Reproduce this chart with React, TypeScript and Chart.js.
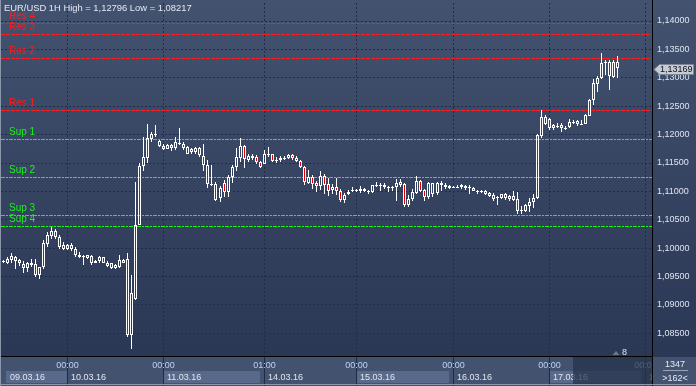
import React, { useEffect, useRef } from "react";
import { Chart, registerables } from "chart.js";

Chart.register(...registerables);

// ---------------- data ----------------
const SLOT_COUNT = 162; // bars shown on screen (">162<")
const slotLabels: string[] = Array.from({ length: SLOT_COUNT }, (_, i) => String(i));

const opens = [
  1.09757, 1.09744, 1.09792, 1.0985, 1.09792, 1.09722, 1.09652, 1.09709, 1.09722, 1.09523,
  1.09664, 1.10075, 1.10216, 1.10309, 1.10203, 1.09981, 1.10062, 1.09991, 1.09991, 1.09885,
  1.09855, 1.09827, 1.09862, 1.09744, 1.09769, 1.09839, 1.09744, 1.09652, 1.09652, 1.09674,
  1.09792, 1.09804, 1.08467, 1.09111, 1.10414, 1.11447, 1.11588, 1.11928, 1.11993, 1.11882,
  1.118, 1.11755, 1.11817, 1.1177, 1.11847, 1.1184, 1.11782, 1.11747, 1.11688, 1.11759,
  1.11629, 1.11465, 1.11113, 1.11125, 1.10878, 1.11148, 1.10984, 1.11254, 1.11429, 1.11593,
  1.11794, 1.11558, 1.11629, 1.11606, 1.11513, 1.11488, 1.11646, 1.11653, 1.11553, 1.11548,
  1.11579, 1.11593, 1.11641, 1.11593, 1.11536, 1.11429, 1.11148, 1.11254, 1.11148, 1.1109,
  1.11266, 1.11125, 1.11016, 1.11072, 1.11013, 1.10849, 1.10954, 1.11016, 1.11022, 1.11002,
  1.11037, 1.11007, 1.1099, 1.11113, 1.11104, 1.11118, 1.1108, 1.1108, 1.11072, 1.11166,
  1.11131, 1.10756, 1.10861, 1.10977, 1.11178, 1.11025, 1.10897, 1.10954, 1.10966, 1.11118,
  1.11072, 1.1106, 1.11082, 1.11082, 1.11072, 1.1106, 1.11069, 1.1106, 1.11009, 1.11009,
  1.11013, 1.10977, 1.10932, 1.10898, 1.10878, 1.10949, 1.10867, 1.10914, 1.10867, 1.10664,
  1.10655, 1.10748, 1.10808, 1.10878, 1.11981, 1.1231, 1.12275, 1.12122, 1.12153, 1.12169,
  1.12119, 1.12135, 1.12224, 1.1224, 1.12188, 1.12192, 1.12333, 1.12604, 1.12897, 1.12992,
  1.1327, 1.13273, 1.13014, 1.13273,
];
const highs = [
  1.09792, 1.0985, 1.09909, 1.09871, 1.09815, 1.09769, 1.09757, 1.09804, 1.09804, 1.09674,
  1.10145, 1.10286, 1.10369, 1.10344, 1.10228, 1.1011, 1.10075, 1.10087, 1.10016, 1.09933,
  1.09885, 1.09885, 1.09875, 1.09792, 1.09862, 1.0985, 1.09779, 1.09744, 1.09722, 1.09885,
  1.09815, 1.09909, 1.09533, 1.11166, 1.11495, 1.11963, 1.12186, 1.12046, 1.12174, 1.11905,
  1.11835, 1.11835, 1.1184, 1.11958, 1.12113, 1.11865, 1.11805, 1.1177, 1.11782, 1.11782,
  1.1183, 1.11558, 1.11465, 1.1116, 1.1109, 1.11196, 1.11289, 1.11465, 1.11759, 1.11935,
  1.11817, 1.11664, 1.11664, 1.11641, 1.11536, 1.11724, 1.11782, 1.11664, 1.11606, 1.11619,
  1.11619, 1.11664, 1.11664, 1.11619, 1.11558, 1.11452, 1.11372, 1.11289, 1.11183, 1.1136,
  1.11312, 1.11241, 1.11136, 1.11236, 1.11037, 1.10977, 1.11025, 1.11072, 1.11048, 1.11095,
  1.1106, 1.11025, 1.11118, 1.11166, 1.11145, 1.11154, 1.11095, 1.11095, 1.11213, 1.11213,
  1.11154, 1.10932, 1.11037, 1.11272, 1.11201, 1.11048, 1.11166, 1.11154, 1.11166, 1.11178,
  1.11154, 1.11118, 1.11095, 1.11108, 1.11131, 1.11118, 1.11108, 1.11084, 1.11025, 1.11025,
  1.11025, 1.1099, 1.10966, 1.10924, 1.1096, 1.10973, 1.10937, 1.11007, 1.10995, 1.10738,
  1.10773, 1.10889, 1.10949, 1.12016, 1.12428, 1.12345, 1.12287, 1.12192, 1.12204, 1.12204,
  1.12157, 1.12275, 1.12262, 1.12262, 1.12262, 1.12368, 1.12627, 1.12979, 1.13038, 1.13437,
  1.13309, 1.13309, 1.13309, 1.13379,
];
const lows = [
  1.0974, 1.09722, 1.09734, 1.09628, 1.09686, 1.09558, 1.09581, 1.09674, 1.09488, 1.09463,
  1.09639, 1.10026, 1.10168, 1.10168, 1.09991, 1.09968, 1.09968, 1.09956, 1.0985, 1.09827,
  1.09709, 1.09804, 1.09709, 1.09734, 1.09744, 1.09734, 1.09664, 1.09628, 1.09628, 1.09652,
  1.09734, 1.08442, 1.08217, 1.09088, 1.10403, 1.11365, 1.11495, 1.1187, 1.11963, 1.11777,
  1.11729, 1.11741, 1.11712, 1.11734, 1.11817, 1.11734, 1.11653, 1.11664, 1.11664, 1.11606,
  1.11353, 1.11054, 1.1109, 1.10831, 1.10808, 1.10902, 1.10902, 1.11148, 1.11353, 1.11523,
  1.11417, 1.11523, 1.11548, 1.11488, 1.11417, 1.11477, 1.11606, 1.11513, 1.11501, 1.11523,
  1.11558, 1.11571, 1.11558, 1.11513, 1.11407, 1.11113, 1.11125, 1.11043, 1.10995, 1.1102,
  1.1095, 1.10924, 1.1096, 1.10942, 1.10814, 1.10791, 1.10942, 1.10995, 1.1099, 1.10977,
  1.1099, 1.10954, 1.10977, 1.11072, 1.11013, 1.11048, 1.1099, 1.11002, 1.10837, 1.11084,
  1.10721, 1.10731, 1.10837, 1.10954, 1.1099, 1.10826, 1.10872, 1.10897, 1.10942, 1.11002,
  1.11048, 1.11048, 1.1106, 1.1106, 1.11037, 1.11025, 1.10954, 1.11002, 1.10954, 1.10966,
  1.10942, 1.10897, 1.10831, 1.10757, 1.10867, 1.10844, 1.10831, 1.10831, 1.10597, 1.10597,
  1.10633, 1.10633, 1.10713, 1.10867, 1.11935, 1.1217, 1.12086, 1.12086, 1.1211, 1.12051,
  1.12076, 1.1211, 1.12192, 1.12157, 1.12181, 1.12181, 1.12322, 1.12522, 1.12756, 1.12979,
  1.13049, 1.1278, 1.12992, 1.12992,
];
const closes = [
  1.09766, 1.09804, 1.09862, 1.09769, 1.09744, 1.09652, 1.09734, 1.09744, 1.09523, 1.09664,
  1.10087, 1.10228, 1.10299, 1.10193, 1.10026, 1.10062, 1.09981, 1.10052, 1.09875, 1.09839,
  1.09864, 1.09875, 1.09734, 1.09779, 1.09839, 1.09744, 1.09686, 1.09734, 1.09699, 1.09792,
  1.09744, 1.08467, 1.09216, 1.10414, 1.11447, 1.116, 1.1194, 1.12011, 1.12002, 1.118,
  1.11741, 1.11817, 1.1177, 1.11865, 1.11858, 1.1177, 1.11664, 1.11688, 1.1177, 1.11641,
  1.11465, 1.11136, 1.11136, 1.10854, 1.11054, 1.10984, 1.11254, 1.11429, 1.11606, 1.11794,
  1.11571, 1.11629, 1.11583, 1.11513, 1.11429, 1.11653, 1.11653, 1.11536, 1.11558, 1.11593,
  1.11585, 1.11641, 1.11583, 1.11536, 1.11429, 1.1116, 1.11254, 1.11136, 1.1109, 1.11277,
  1.11113, 1.11007, 1.11072, 1.11013, 1.10849, 1.10942, 1.1099, 1.11021, 1.11025, 1.11037,
  1.11002, 1.11013, 1.11108, 1.11118, 1.11108, 1.11072, 1.11084, 1.11084, 1.11154, 1.11118,
  1.10756, 1.10861, 1.1099, 1.11178, 1.11013, 1.10897, 1.11145, 1.11145, 1.11145, 1.11154,
  1.11118, 1.11095, 1.11086, 1.11086, 1.11108, 1.11095, 1.11072, 1.11013, 1.11013, 1.11013,
  1.10954, 1.10919, 1.10867, 1.10902, 1.10949, 1.10878, 1.10914, 1.10854, 1.10655, 1.10668,
  1.10761, 1.10819, 1.10878, 1.11993, 1.1231, 1.12182, 1.12122, 1.12169, 1.12157, 1.1211,
  1.12122, 1.12217, 1.12227, 1.12182, 1.12192, 1.12345, 1.12604, 1.12909, 1.12992, 1.13261,
  1.13273, 1.13027, 1.13284, 1.13169,
];

const Y_MIN = 1.08102;
const Y_MAX = 1.14317;
const yTickValues = [1.085, 1.09, 1.095, 1.1, 1.105, 1.11, 1.115, 1.12, 1.125, 1.13, 1.135, 1.14];

const levelNames = ["Res 4", "Res 3", "Res 2", "Res 1", "Sup 1", "Sup 2", "Sup 3", "Sup 4"];
const levelValues = [1.13959, 1.13766, 1.13343, 1.12433, 1.11917, 1.11259, 1.10579, 1.10385];

const timeSlots = [16, 40, 65, 88, 112, 136, 160];
const timeLabels = ["00:00", "00:00", "01:00", "00:00", "00:00", "00:00", "00:00"];
const dateLabels = ["09.03.16", "10.03.16", "11.03.16", "14.03.16", "15.03.16", "16.03.16", "17.03.16", "18.03.16"];

const headerText = "EUR/USD 1H High = 1,12796 Low = 1,08217";
const lastPrice = 1.13169;
const barCountText = "1347";
const visibleText = ">162<";
const shiftText = "8";

// ---------------- styling ----------------
const FONT = "'Liberation Sans', Arial, sans-serif";
const BEAR = "#e00000";
const RES_COLOR = "#ff1c1c";
const SUP_COLOR = "#1ef01e";
const GRID = "#1f2d4b";
const PLOT_RIGHT = 652;
const AXIS_TOP = 357;

const fmt = (v: number) => v.toFixed(5).replace(".", ",");

const snapPlugin = {
  id: "snap",
  beforeDatasetsDraw(chart: any) {
    chart.data.datasets.forEach((_ds: any, di: number) => {
      const meta = chart.getDatasetMeta(di);
      meta.data.forEach((el: any) => {
        el.x = Math.floor(el.x) + 0.5;
        el.y = Math.round(el.y);
        el.base = Math.round(el.base);
        if (di === 0 && Math.abs(el.base - el.y) < 1) el.base = el.y + 1;
      });
    });
  },
};

const chromePlugin = {
  id: "chrome",
  beforeDraw(chart: any) {
    const { ctx, width, height } = chart;
    ctx.save();
    const g = ctx.createLinearGradient(0, 0, 0, 356);
    g.addColorStop(0, "#42526f");
    g.addColorStop(1, "#2a3755");
    ctx.fillStyle = g;
    ctx.fillRect(0, 0, width, height);
    ctx.restore();
  },
  beforeDatasetsDraw(chart: any) {
    const { ctx, chartArea } = chart;
    const xs = chart.scales.x;
    const ys = chart.scales.y;
    ctx.save();
    // vertical grid lines
    ctx.strokeStyle = GRID;
    ctx.lineWidth = 1;
    ctx.setLineDash([2, 2]);
    timeSlots.forEach((s) => {
      const x = Math.floor(xs.getPixelForValue(s)) + 0.5;
      ctx.beginPath();
      ctx.moveTo(x, chartArea.top);
      ctx.lineTo(x, chartArea.bottom);
      ctx.stroke();
    });
    // support / resistance levels
    levelValues.forEach((v, i) => {
      const isRes = levelNames[i].startsWith("Res");
      const y = Math.round(ys.getPixelForValue(v)) + 0.5;
      ctx.strokeStyle = isRes ? RES_COLOR : SUP_COLOR;
      ctx.setLineDash(isRes ? [4, 1] : [4, 1, 2, 1]);
      ctx.beginPath();
      ctx.moveTo(chartArea.left, y);
      ctx.lineTo(chartArea.right, y);
      ctx.stroke();
      ctx.setLineDash([]);
      ctx.fillStyle = isRes ? RES_COLOR : SUP_COLOR;
      ctx.font = `10px ${FONT}`;
      ctx.textAlign = "left";
      ctx.textBaseline = "alphabetic";
      ctx.fillText(levelNames[i], 9, y - 4.5);
    });
    ctx.restore();
  },
  afterDraw(chart: any) {
    const { ctx, width, height } = chart;
    const xs = chart.scales.x;
    const ys = chart.scales.y;
    const gx = timeSlots.map((s) => Math.floor(xs.getPixelForValue(s)) + 0.5);
    ctx.save();

    // bottom time axis
    ctx.fillStyle = "#43526f";
    ctx.fillRect(0, AXIS_TOP, width, height - AXIS_TOP);
    const starts = [6, ...gx.map((x) => x - 0.5)];
    const ends = [...gx.map((x) => x - 0.5), PLOT_RIGHT];
    ctx.fillStyle = "#58698a";
    [0, 2, 4, 6].forEach((k) => {
      const x0 = starts[k];
      const x1 = Math.min(ends[k] - (k === 0 ? 0 : 4), PLOT_RIGHT);
      ctx.fillRect(x0, 371, x1 - x0, 12);
    });
    ctx.strokeStyle = "#1e2b47";
    gx.forEach((x) => {
      ctx.beginPath();
      ctx.moveTo(x, AXIS_TOP);
      ctx.lineTo(x, height);
      ctx.stroke();
    });
    ctx.save();
    ctx.beginPath();
    ctx.rect(0, AXIS_TOP, PLOT_RIGHT, height - AXIS_TOP);
    ctx.clip();
    ctx.font = `9px ${FONT}`;
    ctx.textBaseline = "alphabetic";
    ctx.fillStyle = "#bdd2f2";
    ctx.textAlign = "center";
    gx.forEach((x, i) => ctx.fillText(timeLabels[i], x, 368));
    ctx.fillStyle = "#e2e7ef";
    ctx.textAlign = "left";
    dateLabels.forEach((d, i) => ctx.fillText(d, starts[i] + 4, 380));
    // scroll overlay
    ctx.fillStyle = "rgba(36,48,74,0.72)";
    ctx.fillRect(573, AXIS_TOP, PLOT_RIGHT - 573, 27);
    ctx.restore();

    // right-bottom info
    ctx.font = `9px ${FONT}`;
    ctx.fillStyle = "#e8ecf2";
    ctx.textAlign = "center";
    ctx.fillText(barCountText, 675, 367);
    ctx.fillText(visibleText, 675, 381);
    ctx.strokeStyle = "#9aa3b4";
    ctx.beginPath();
    ctx.moveTo(663, 370.5);
    ctx.lineTo(688, 370.5);
    ctx.stroke();

    // shift marker
    ctx.fillStyle = "#6e7583";
    ctx.beginPath();
    ctx.moveTo(612.5, 355);
    ctx.lineTo(616, 351);
    ctx.lineTo(619.5, 355);
    ctx.closePath();
    ctx.fill();
    ctx.fillStyle = "#e6e6e6";
    ctx.textAlign = "left";
    ctx.fillText(shiftText, 622, 355);

    // frame lines
    ctx.strokeStyle = "#000000";
    ctx.beginPath();
    ctx.moveTo(0, 356.5);
    ctx.lineTo(653, 356.5);
    ctx.moveTo(652.5, 0);
    ctx.lineTo(652.5, height);
    ctx.stroke();
    ctx.strokeStyle = "#8b96aa";
    ctx.beginPath();
    ctx.moveTo(0.5, 0);
    ctx.lineTo(0.5, height);
    ctx.moveTo(0, height - 1.5);
    ctx.lineTo(width, height - 1.5);
    ctx.stroke();

    // header
    ctx.font = `9.4px ${FONT}`;
    ctx.fillStyle = "#e4e9f1";
    ctx.textAlign = "left";
    ctx.fillText(headerText, 4, 11);

    // last price tag
    const cy = Math.round(ys.getPixelForValue(lastPrice)) + 1;
    ctx.fillStyle = "#c6cbd4";
    ctx.strokeStyle = "#7d8698";
    ctx.beginPath();
    ctx.moveTo(654, cy + 0.5);
    ctx.lineTo(659.5, cy - 4.5);
    ctx.lineTo(693.5, cy - 4.5);
    ctx.lineTo(693.5, cy + 5.5);
    ctx.lineTo(659.5, cy + 5.5);
    ctx.closePath();
    ctx.fill();
    ctx.stroke();
    ctx.fillStyle = "#111111";
    ctx.textBaseline = "middle";
    ctx.font = `9px ${FONT}`;
    ctx.fillText(fmt(lastPrice), 660, cy + 1);
    ctx.restore();
  },
};

export default function App() {
  const canvasRef = useRef<HTMLCanvasElement | null>(null);

  useEffect(() => {
    const canvas = canvasRef.current;
    if (!canvas) return;
    const bullBear = opens.map((o, i) => closes[i] < o);
    const bodies = opens.map((o, i) => [Math.min(o, closes[i]), Math.max(o, closes[i])]);
    const upperWicks = opens.map((o, i) => [Math.max(o, closes[i]), highs[i]]);
    const lowerWicks = opens.map((o, i) => [lows[i], Math.min(o, closes[i])]);

    const chart = new Chart(canvas, {
      type: "bar",
      data: {
        labels: slotLabels,
        datasets: [
          {
            label: "body",
            data: bodies as any,
            backgroundColor: bullBear.map((b) => (b ? BEAR : "rgba(0,0,0,0)")),
            borderColor: "#ffffff",
            borderWidth: 1,
            borderSkipped: false,
            barThickness: 3,
            grouped: false,
            inflateAmount: 0,
          } as any,
          {
            label: "upper",
            data: upperWicks as any,
            backgroundColor: "#ffffff",
            borderWidth: 0,
            barThickness: 1,
            grouped: false,
            inflateAmount: 0,
          } as any,
          {
            label: "lower",
            data: lowerWicks as any,
            backgroundColor: "#ffffff",
            borderWidth: 0,
            barThickness: 1,
            grouped: false,
            inflateAmount: 0,
          } as any,
        ],
      },
      options: {
        responsive: false,
        animation: false,
        devicePixelRatio: 1,
        layout: { padding: { left: 1, right: 0, top: 3, bottom: 30 } },
        plugins: { legend: { display: false }, tooltip: { enabled: false } },
        scales: {
          x: { display: false, offset: true },
          y: {
            position: "right",
            min: Y_MIN,
            max: Y_MAX,
            afterBuildTicks: (s: any) => {
              s.ticks = yTickValues.map((v) => ({ value: v }));
            },
            afterFit: (s: any) => {
              s.width = 44;
              s.paddingTop = 0;
              s.paddingBottom = 0;
            },
            grid: { color: GRID, lineWidth: 1, drawTicks: false },
            border: { display: false, dash: [2, 2] },
            ticks: {
              color: "#dfe5ee",
              padding: 5,
              font: { family: FONT, size: 9 },
              callback: (v: any) => fmt(Number(v)),
            },
          },
        },
      } as any,
      plugins: [snapPlugin, chromePlugin],
    });
    return () => chart.destroy();
  }, []);

  return (
    <div style={{ position: "absolute", left: 0, top: 0, width: 696, height: 386 }}>
      <canvas ref={canvasRef} width={696} height={386} style={{ display: "block" }} />
    </div>
  );
}
